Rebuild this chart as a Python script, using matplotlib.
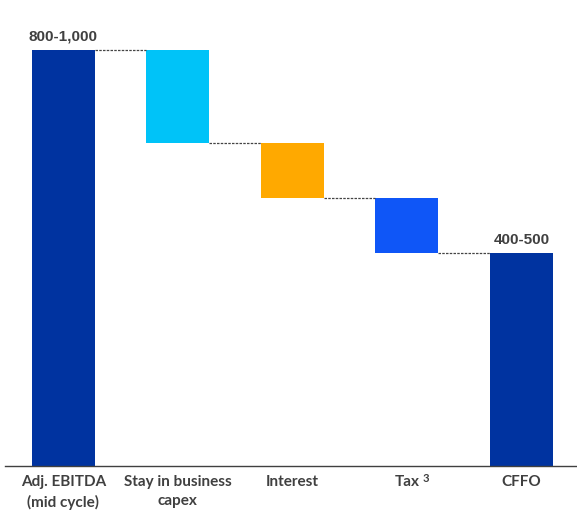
import matplotlib.pyplot as plt
import numpy as np

# Cash flow bridge (arbitrary units)
categories = ['Adj. EBITDA\n(mid cycle)', 'Stay in business\ncapex', 'Interest', 'Tax', 'CFFO']
values = [900, -200, -120, -120, 460]
totals = [True, False, False, False, True]
value_labels = ['800-1,000', '', '', '', '400-500']
colors = ['#0033A0', '#00C3F8', '#FFA900', '#0F56F7', '#0033A0']

fig = plt.figure(figsize=(5.77, 5.11), dpi=100)
ax = fig.add_axes([5 / 577, 1 - 466 / 511, 572 / 577, 462 / 511])

x = np.arange(len(categories))
width = 0.55
bottoms = []
heights = []
level = 0
for v, is_total in zip(values, totals):
    if is_total:
        bottoms.append(0)
        heights.append(v)
        level = v
    else:
        bottoms.append(level + v)
        heights.append(-v)
        level = level + v

ax.bar(x, heights, width, bottom=bottoms, color=colors, edgecolor='none')

# dashed connectors between bars
for i in range(len(x) - 1):
    if totals[i]:
        lvl = bottoms[i] + heights[i]
    else:
        lvl = bottoms[i]
    ax.plot([x[i] + width / 2, x[i + 1] - width / 2], [lvl, lvl],
            linestyle=(0, (2, 1)), color='#444444', linewidth=0.9)

for i, lab in enumerate(value_labels):
    if lab:
        ax.text(x[i], bottoms[i] + heights[i] + 14, lab, ha='center', va='bottom',
                fontsize=11, fontweight='bold', color='#404040', family='Liberation Sans')

ax.set_xlim(-0.51, 4.485)
ax.set_ylim(0, 1000)
ax.set_xticks(x)
ax.set_xticklabels(categories, fontsize=11, fontweight='bold', color='#404040',
                   family='Lato', linespacing=1.45)
ax.tick_params(axis='x', length=0, pad=6.5)
ax.set_yticks([])
for s in ['top', 'left', 'right']:
    ax.spines[s].set_visible(False)
ax.spines['bottom'].set_color('#404040')
ax.spines['bottom'].set_linewidth(1)

# footnote marker on "Tax"
fig.canvas.draw()
bb = ax.get_xticklabels()[3].get_window_extent()
W, H = fig.canvas.get_width_height()
fig.text((bb.x1 + 3) / W, (bb.y1 + 2) / H, '3', ha='left', va='top',
         fontsize=8, fontweight='bold', color='#404040', family='Lato')

fig.savefig('out.png', dpi=100)
